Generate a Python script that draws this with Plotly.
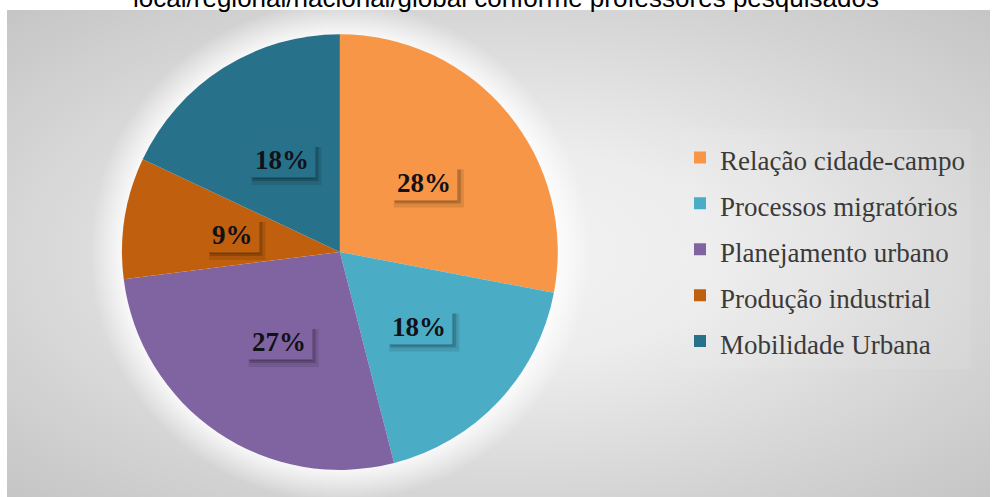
import base64
import math
import plotly.graph_objects as go

# ---- data ----
categories = ["Relação cidade-campo", "Processos migratórios", "Planejamento urbano",
              "Produção industrial", "Mobilidade Urbana"]
percentages = [28, 18, 27, 9, 18]
colors = ["#F79646", "#4BACC6", "#8064A2", "#C0600E", "#28718A"]
title_text = "local/regional/nacional/global conforme professores pesquisados"

W, H = 996, 497

# pie geometry (paper coordinates)
dom_x = [0.1225, 0.5600]
dom_y = [0.0543, 0.9316]
cx = (dom_x[0] + dom_x[1]) / 2
cy = (dom_y[0] + dom_y[1]) / 2
r_px = min((dom_x[1] - dom_x[0]) * W, (dom_y[1] - dom_y[0]) * H) / 2

# background: elliptical grey gradient + soft white glow around the pie
BX, BY, BW, BH = 7, 10, 983, 487
pcx = cx * W - BX
pcy = (1 - cy) * H - BY
GL = 32
bg_svg = f'''<svg xmlns="http://www.w3.org/2000/svg" width="{BW}" height="{BH}" viewBox="0 0 {BW} {BH}">
<defs>
<radialGradient id="g" cx="0.5" cy="0.5" r="0.72">
<stop offset="0" stop-color="#f3f3f3"/>
<stop offset="0.3" stop-color="#ededed"/>
<stop offset="0.45" stop-color="#e4e4e4"/>
<stop offset="0.7" stop-color="#d5d5d5"/>
<stop offset="1" stop-color="#c4c4c4"/>
</radialGradient>
<radialGradient id="glow" gradientUnits="userSpaceOnUse" cx="{pcx:.1f}" cy="{pcy:.1f}" r="{r_px + GL:.1f}">
<stop offset="0" stop-color="#ffffff" stop-opacity="0.9"/>
<stop offset="{r_px / (r_px + GL):.3f}" stop-color="#ffffff" stop-opacity="0.8"/>
<stop offset="1" stop-color="#ffffff" stop-opacity="0"/>
</radialGradient>
</defs>
<rect x="0" y="0" width="{BW}" height="{BH}" fill="url(#g)"/>
<rect x="0" y="0" width="{BW}" height="{BH}" fill="url(#glow)"/>
</svg>'''
bg_uri = "data:image/svg+xml;base64," + base64.b64encode(bg_svg.encode()).decode()

legend_labels = [f'<span style="font-size:27px">{c}</span>' for c in categories]

fig = go.Figure(go.Pie(
    labels=legend_labels,
    values=percentages,
    marker=dict(colors=colors, line=dict(width=0)),
    sort=False,
    direction="clockwise",
    rotation=0,
    textinfo="none",
    hoverinfo="skip",
    domain=dict(x=dom_x, y=dom_y),
))

# label boxes placed at half radius, mid-angle of each slice
FS = 27
total = sum(percentages)
annotations = []
shapes = []
cum = 0
for p, col in zip(percentages, colors):
    mid = (cum + p / 2) / total * 2 * math.pi
    cum += p
    rr = 0.5 * r_px
    ax = cx + rr * math.sin(mid) / W
    ay = cy + rr * math.cos(mid) / H
    pct = round(p / total * 100)
    bw = 0.5 * FS * len(str(pct)) + FS * 1.0 + 12
    bh = 34
    # blurred drop shadow (layers)
    for dx, dy, grow, alpha in [(5, 6, 2, 0.10), (4, 4, 0, 0.18), (2, 3, -1, 0.15)]:
        shapes.append(dict(
            type="rect", xref="paper", yref="paper", layer="above",
            x0=ax + (-bw / 2 + dx - grow) / W, x1=ax + (bw / 2 + dx + grow) / W,
            y0=ay + (-bh / 2 - dy - grow) / H, y1=ay + (bh / 2 - dy + grow) / H,
            fillcolor=f"rgba(0,0,0,{alpha})", line=dict(width=0),
        ))
    annotations.append(dict(
        x=ax, y=ay, xref="paper", yref="paper", xanchor="center", yanchor="middle",
        text=f"<b>{pct}%</b>", showarrow=False,
        font=dict(family="Liberation Serif", size=FS, color="#111118"),
        bgcolor=col, borderpad=0, width=bw, height=bh,
    ))

fig.update_layout(
    width=W, height=H,
    margin=dict(l=0, r=0, t=0, b=0),
    paper_bgcolor="white",
    plot_bgcolor="rgba(0,0,0,0)",
    title=dict(text=title_text, x=506 / W, xanchor="center",
               y=1 - 7 / H, yanchor="bottom", yref="container",
               font=dict(family="Liberation Sans", size=26, color="black")),
    images=[dict(source=bg_uri, xref="paper", yref="paper",
                 x=BX / W, y=1 - BY / H, sizex=BW / W, sizey=BH / H,
                 xanchor="left", yanchor="top", sizing="stretch", layer="below")],
    legend=dict(x=680 / W, xanchor="left", y=0.498, yanchor="middle",
                font=dict(family="Liberation Serif", size=33, color="#3a3a3a"),
                bgcolor="rgba(255,255,255,0.08)", traceorder="normal"),
    annotations=annotations,
    shapes=shapes,
    showlegend=True,
)

fig.write_html("out.html")
